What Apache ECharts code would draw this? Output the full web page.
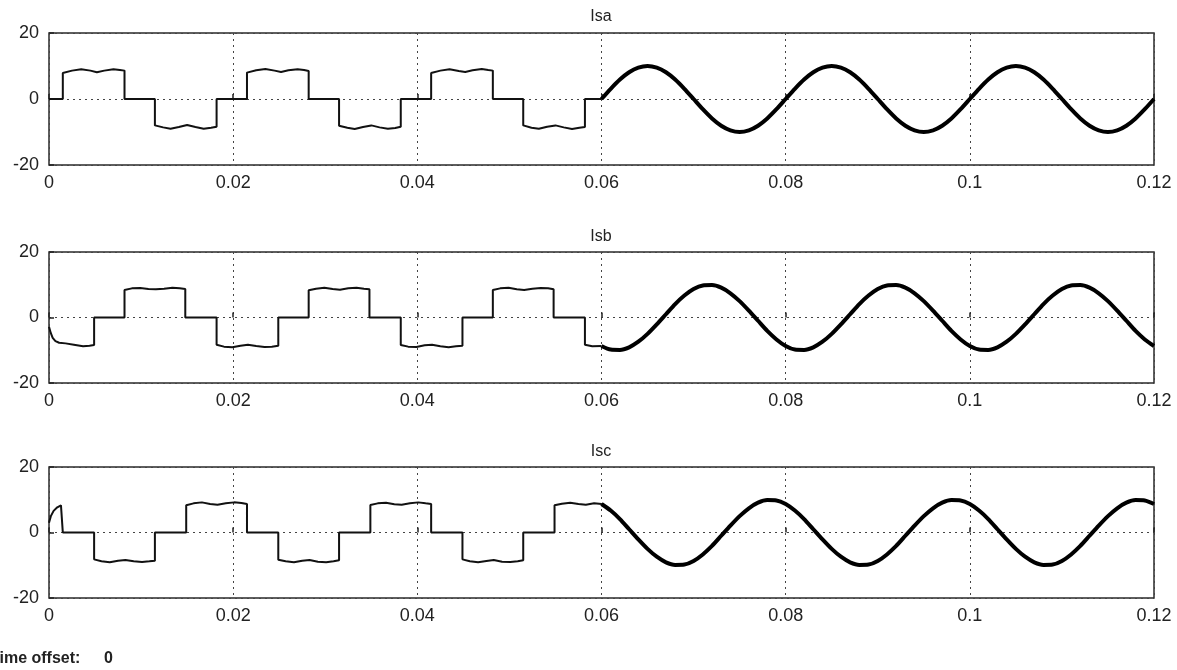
<!DOCTYPE html>
<html>
<head>
<meta charset="utf-8">
<script src="https://cdn.jsdelivr.net/npm/echarts@6/dist/echarts.min.js"></script>
<style>
html,body{margin:0;padding:0;background:#fff;}
#chart{width:1177px;height:670px;}
</style>
</head>
<body>
<div id="chart"></div>
<script>
// ---------- DATA ----------
const panelTitles = ['Isa', 'Isb', 'Isc'];
const xTickLabels = ['0', '0.02', '0.04', '0.06', '0.08', '0.1', '0.12'];
const yTickLabels = ['-20', '0', '20'];

// six-step (square-ish) part, 0 .. 0.06 s : [time, current]
const isaStep = [
  [0.0000,0],[0.0015,0],[0.0015,7.9],[0.0025,8.6],[0.0035,9.0],[0.0045,8.6],[0.0052,8.1],[0.0060,8.6],[0.0070,9.0],[0.0077,8.8],[0.0082,8.6],[0.0082,0],
  [0.0115,0],[0.0115,-8.0],[0.0124,-8.6],[0.0132,-9.0],[0.0141,-8.5],[0.0150,-7.9],[0.0159,-8.5],[0.0168,-9.0],[0.0176,-8.7],[0.0182,-8.4],[0.0182,0],
  [0.0215,0],[0.0215,8.0],[0.0225,8.7],[0.0235,9.1],[0.0245,8.6],[0.0252,8.2],[0.0260,8.7],[0.0270,9.0],[0.0277,8.8],[0.0282,8.5],[0.0282,0],
  [0.0315,0],[0.0315,-8.1],[0.0324,-8.7],[0.0332,-9.1],[0.0341,-8.5],[0.0350,-8.0],[0.0359,-8.6],[0.0368,-9.0],[0.0376,-8.8],[0.0382,-8.4],[0.0382,0],
  [0.0415,0],[0.0415,7.9],[0.0425,8.6],[0.0435,9.0],[0.0445,8.5],[0.0452,8.2],[0.0460,8.7],[0.0470,9.1],[0.0477,8.8],[0.0482,8.6],[0.0482,0],
  [0.0515,0],[0.0515,-8.0],[0.0524,-8.7],[0.0532,-9.0],[0.0541,-8.4],[0.0550,-8.0],[0.0559,-8.6],[0.0568,-9.1],[0.0576,-8.7],[0.0582,-8.5],[0.0582,0],
  [0.0600,0]
];
const isbStep = [
  [0.0000,-2.8],[0.0002,-4.8],[0.0004,-6.2],[0.0007,-7.2],[0.0011,-7.7],[0.0018,-7.9],[0.0027,-8.3],[0.0037,-8.8],[0.0044,-8.6],[0.0049,-8.4],[0.0049,0],
  [0.0082,0],[0.0082,8.4],[0.0090,8.9],[0.0099,9.0],[0.0108,8.7],[0.0116,8.6],[0.0125,8.8],[0.0134,9.1],[0.0142,8.9],[0.0148,8.7],[0.0148,0],
  [0.0182,0],[0.0182,-8.3],[0.0190,-8.9],[0.0199,-9.1],[0.0208,-8.6],[0.0216,-8.3],[0.0225,-8.7],[0.0234,-9.0],[0.0242,-8.9],[0.0249,-8.6],[0.0249,0],
  [0.0282,0],[0.0282,8.3],[0.0290,8.8],[0.0299,9.1],[0.0308,8.7],[0.0316,8.5],[0.0325,8.9],[0.0334,9.1],[0.0342,8.8],[0.0348,8.6],[0.0348,0],
  [0.0382,0],[0.0382,-8.4],[0.0390,-8.9],[0.0399,-9.0],[0.0408,-8.5],[0.0416,-8.3],[0.0425,-8.8],[0.0434,-9.1],[0.0442,-8.8],[0.0449,-8.6],[0.0449,0],
  [0.0482,0],[0.0482,8.4],[0.0490,8.9],[0.0499,9.1],[0.0508,8.6],[0.0516,8.4],[0.0525,8.8],[0.0534,9.0],[0.0542,8.9],[0.0548,8.6],[0.0548,0],
  [0.0582,0],[0.0582,-8.3],[0.0590,-8.8],[0.0600,-8.7]
];
const iscStep = [
  [0.0000,3.0],[0.0002,5.0],[0.0005,6.6],[0.0009,7.7],[0.0013,8.3],[0.0015,8.2],[0.0015,0],
  [0.0049,0],[0.0049,-8.2],[0.0057,-8.8],[0.0066,-9.1],[0.0075,-8.6],[0.0083,-8.4],[0.0092,-8.8],[0.0101,-9.0],[0.0109,-8.8],[0.0115,-8.6],[0.0115,0],
  [0.0149,0],[0.0149,8.3],[0.0157,8.9],[0.0166,9.2],[0.0175,8.7],[0.0183,8.5],[0.0192,8.9],[0.0201,9.2],[0.0209,9.0],[0.0215,8.7],[0.0215,0],
  [0.0249,0],[0.0249,-8.3],[0.0257,-8.8],[0.0266,-9.1],[0.0275,-8.6],[0.0283,-8.4],[0.0292,-8.9],[0.0301,-9.1],[0.0309,-8.8],[0.0315,-8.5],[0.0315,0],
  [0.0349,0],[0.0349,8.4],[0.0357,8.9],[0.0366,9.1],[0.0375,8.6],[0.0383,8.5],[0.0392,8.9],[0.0401,9.2],[0.0409,8.9],[0.0415,8.7],[0.0415,0],
  [0.0449,0],[0.0449,-8.2],[0.0457,-8.8],[0.0466,-9.1],[0.0475,-8.7],[0.0483,-8.4],[0.0492,-8.9],[0.0501,-9.0],[0.0509,-8.8],[0.0515,-8.5],[0.0515,0],
  [0.0549,0],[0.0549,8.3],[0.0557,8.8],[0.0566,9.1],[0.0575,8.7],[0.0583,8.5],[0.0592,8.9],[0.0600,8.7]
];

// sinusoidal part, sampled every 1 ms from 0.06 s to 0.12 s
const sineStart = 0.06;
const sineStep = 0.001;
const isaSine = [
  0, 3.1, 5.9, 8.1, 9.5, 10.0, 9.5, 8.1, 5.9, 3.1, 0, -3.1, -5.9, -8.1, -9.5, -10.0, -9.5, -8.1, -5.9, -3.1,
  0, 3.1, 5.9, 8.1, 9.5, 10.0, 9.5, 8.1, 5.9, 3.1, 0, -3.1, -5.9, -8.1, -9.5, -10.0, -9.5, -8.1, -5.9, -3.1,
  0, 3.1, 5.9, 8.1, 9.5, 10.0, 9.5, 8.1, 5.9, 3.1, 0, -3.1, -5.9, -8.1, -9.5, -10.0, -9.5, -8.1, -5.9, -3.1,
  0
];
const isbSine = [
  -8.7, -9.8, -9.9, -9.1, -7.4, -5.0, -2.1, 1.0, 4.1, 6.7, 8.7, 9.8, 9.9, 9.1, 7.4, 5.0, 2.1, -1.0, -4.1, -6.7,
  -8.7, -9.8, -9.9, -9.1, -7.4, -5.0, -2.1, 1.0, 4.1, 6.7, 8.7, 9.8, 9.9, 9.1, 7.4, 5.0, 2.1, -1.0, -4.1, -6.7,
  -8.7, -9.8, -9.9, -9.1, -7.4, -5.0, -2.1, 1.0, 4.1, 6.7, 8.7, 9.8, 9.9, 9.1, 7.4, 5.0, 2.1, -1.0, -4.1, -6.7,
  -8.7
];
const iscSine = [
  8.7, 6.7, 4.1, 1.0, -2.1, -5.0, -7.4, -9.1, -9.9, -9.8, -8.7, -6.7, -4.1, -1.0, 2.1, 5.0, 7.4, 9.1, 9.9, 9.8,
  8.7, 6.7, 4.1, 1.0, -2.1, -5.0, -7.4, -9.1, -9.9, -9.8, -8.7, -6.7, -4.1, -1.0, 2.1, 5.0, 7.4, 9.1, 9.9, 9.8,
  8.7, 6.7, 4.1, 1.0, -2.1, -5.0, -7.4, -9.1, -9.9, -9.8, -8.7, -6.7, -4.1, -1.0, 2.1, 5.0, 7.4, 9.1, 9.9, 9.8,
  8.7
];

// ---------- CHART ----------
const stepSets = [isaStep, isbStep, iscStep];
const sineSets = [isaSine, isbSine, iscSine];
const FONT = 'Liberation Sans, Arial, sans-serif';
const gridTops = [33, 252, 467];
const gridHeights = [132, 131, 131];
const titleYs = [17, 237, 452];

const grids = [], xAxes = [], yAxes = [], series = [], graphics = [];
for (let i = 0; i < 3; i++) {
  grids.push({
    left: 49, right: 23, top: gridTops[i], height: gridHeights[i],
    show: true, borderColor: '#2a2a2a', borderWidth: 1.5, backgroundColor: '#fff'
  });
  xAxes.push({
    type: 'value', gridIndex: i, min: 0, max: 0.12, interval: 0.02,
    axisLine: { show: false },
    axisTick: { show: true, inside: true, length: 5, lineStyle: { color: '#222', width: 1.5 } },
    axisLabel: {
      margin: 9, fontSize: 18, color: '#222', fontFamily: FONT,
      formatter: v => xTickLabels[Math.round(v / 0.02)]
    },
    splitLine: { show: true, lineStyle: { type: [2, 4], color: '#444', width: 1 } }
  });
  yAxes.push({
    type: 'value', gridIndex: i, min: -20, max: 20, interval: 20,
    axisLine: { show: false },
    axisTick: { show: true, inside: true, length: 5, lineStyle: { color: '#222', width: 1.5 } },
    axisLabel: {
      margin: 10, fontSize: 18, color: '#222', fontFamily: FONT,
      formatter: v => yTickLabels[Math.round((v + 20) / 20)]
    },
    splitLine: { show: true, lineStyle: { type: [2, 4], color: '#444', width: 1 } }
  });
  series.push({
    type: 'line', xAxisIndex: i, yAxisIndex: i, data: stepSets[i],
    showSymbol: false, symbol: 'none', z: 3,
    lineStyle: { color: '#111', width: 2 }
  });
  series.push({
    type: 'line', xAxisIndex: i, yAxisIndex: i,
    data: sineSets[i].map((v, k) => [sineStart + k * sineStep, v]),
    showSymbol: false, symbol: 'none', smooth: 0.25, z: 4,
    lineStyle: { color: '#000', width: 4 }
  });
  graphics.push({
    type: 'text', x: 601, y: titleYs[i],
    style: { text: panelTitles[i], align: 'center', verticalAlign: 'middle',
             font: '16px ' + FONT, fill: '#222' }
  });
}
graphics.push({
  type: 'text', x: -10, y: 659,
  style: { text: 'Time offset:', verticalAlign: 'middle', font: 'bold 16px ' + FONT, fill: '#222' }
});
graphics.push({
  type: 'text', x: 104, y: 659,
  style: { text: '0', verticalAlign: 'middle', font: 'bold 16px ' + FONT, fill: '#222' }
});

const chart = echarts.init(document.getElementById('chart'), null, { renderer: 'canvas' });
chart.setOption({
  animation: false,
  backgroundColor: '#fff',
  grid: grids,
  xAxis: xAxes,
  yAxis: yAxes,
  series: series,
  graphic: graphics
});
</script>
</body>
</html>
